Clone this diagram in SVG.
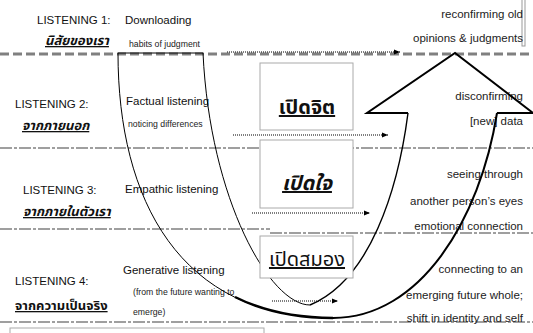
<svg xmlns="http://www.w3.org/2000/svg" width="533" height="333" viewBox="0 0 533 333">
<style>
.t{font-family:"Liberation Sans",Arial,sans-serif;fill:#111;font-size:11.5px}
.s{font-size:8.7px;fill:#222}
.r{text-anchor:end;fill:#222}
.th{font-family:"Noto Sans Thai","Noto Sans","DejaVu Sans",sans-serif;font-weight:bold;fill:#111;text-decoration:underline}
.it{font-style:italic}
.big{font-size:20px;text-anchor:middle}
.sep1{stroke:#808080;stroke-width:3;stroke-dasharray:9 4;fill:none}
.sep{stroke:#808080;stroke-width:1.5;stroke-dasharray:12 2 3 2;fill:none}
.box{fill:#fff;stroke:#aaa;stroke-width:1}
.dot{stroke:#000;stroke-width:1.2;stroke-dasharray:1 1;fill:none}
.cv{fill:none;stroke:#000}
</style>
<defs>
<marker id="ah" viewBox="0 0 6 6" refX="6" refY="3" markerWidth="6" markerHeight="6" markerUnits="userSpaceOnUse" orient="auto"><path d="M0,0.5 L6,3 L0,5.5Z" fill="#000"/></marker>
</defs>
<rect width="533" height="333" fill="#fff"/>
<g id="separators">
<line class="sep1" x1="0" y1="54" x2="533" y2="54"/>
<line class="sep" x1="0" y1="148" x2="533" y2="148"/>
<line class="sep" x1="0" y1="229" x2="270" y2="229"/>
<line class="sep" x1="270" y1="233" x2="533" y2="233"/>
<line class="sep" x1="0" y1="322" x2="533" y2="322"/>
<rect x="10" y="328" width="254" height="10" fill="none" stroke="#aaa"/>
<rect x="522" y="-1" width="3" height="47" fill="none" stroke="#999"/>
</g>
<g id="level1">
<text class="t" x="37" y="24">LISTENING 1:</text>
<text class="t" x="125" y="24">Downloading</text>
<text class="th it" x="45" y="45" font-size="13">นิสัยของเรา</text>
<text class="t s" x="129" y="47">habits of judgment</text>
<text class="t r" x="523" y="18">reconfirming old</text>
<text class="t r" x="523" y="42">opinions &amp; judgments</text>
</g>
<g id="level2">
<text class="t" x="15" y="108">LISTENING 2:</text>
<text class="th it" x="22" y="130" font-size="13">จากภายนอก</text>
<text class="t" x="126" y="105">Factual listening</text>
<text class="t s" x="128" y="127">noticing differences</text>
<text class="t r" x="523" y="100">disconfirming</text>
<text class="t r" x="523" y="125">[new] data</text>
</g>
<g id="level3">
<text class="t" x="23" y="194">LISTENING 3:</text>
<text class="th it" x="23" y="216" font-size="13">จากภายในตัวเรา</text>
<text class="t" x="125" y="193">Empathic listening</text>
<text class="t r" x="523" y="178">seeing through</text>
<text class="t r" x="523" y="205">another person’s eyes</text>
<text class="t r" x="523" y="230">emotional connection</text>
</g>
<g id="level4">
<text class="t" x="15" y="285">LISTENING 4:</text>
<text class="th" x="15" y="310" font-size="13">จากความเป็นจริง</text>
<text class="t" x="123" y="274">Generative listening</text>
<text class="t s" x="133" y="295">(from the future wanting to</text>
<text class="t s" x="133" y="315">emerge)</text>
<text class="t r" x="523" y="273">connecting to an</text>
<text class="t r" x="523" y="299">emerging future whole;</text>
<text class="t r" x="523" y="322">shift in identity and self</text>
</g>
<g id="connectors">
<path class="cv" stroke-width="1" d="M118,53 H203"/>
<path class="cv" stroke-width="1" d="M118,53 C118,200 180,318 333,318"/>
<path class="cv" stroke-width="2.5" d="M235,297 C262.2,310.6 294.75,318 333,318"/>
<path class="cv" stroke-width="2" d="M333,318 C420,318 480,220 497,113"/>
<path class="cv" stroke-width="2" stroke-linejoin="miter" d="M497,113 H533 L455,53 L367,113 H408"/>
<path class="cv" stroke-width="1.4" d="M408,113 C398,190 370,280 310,305"/>
<path class="cv" stroke-width="1" d="M310,305 C270,305 210,200 203,53"/>
<line class="dot" x1="227" y1="52" x2="400" y2="52" marker-end="url(#ah)"/>
<line class="dot" x1="233" y1="135" x2="388" y2="135" marker-end="url(#ah)"/>
<line class="dot" x1="252" y1="213" x2="370" y2="213" marker-end="url(#ah)"/>
<line class="dot" x1="272" y1="301" x2="338" y2="301" marker-end="url(#ah)"/>
</g>
<g id="box-jit">
<rect class="box" x="260" y="63" width="93" height="67"/>
<text class="th big" x="307" y="114">เปิดจิต</text>
</g>
<g id="box-jai">
<rect class="box" x="260" y="140" width="93" height="68"/>
<text class="th it big" x="307" y="190">เปิดใจ</text>
</g>
<g id="box-samong">
<rect class="box" x="260" y="236" width="93" height="42"/>
<text class="th big" x="307" y="266" style="font-weight:normal">เปิดสมอง</text>
</g>
</svg>
